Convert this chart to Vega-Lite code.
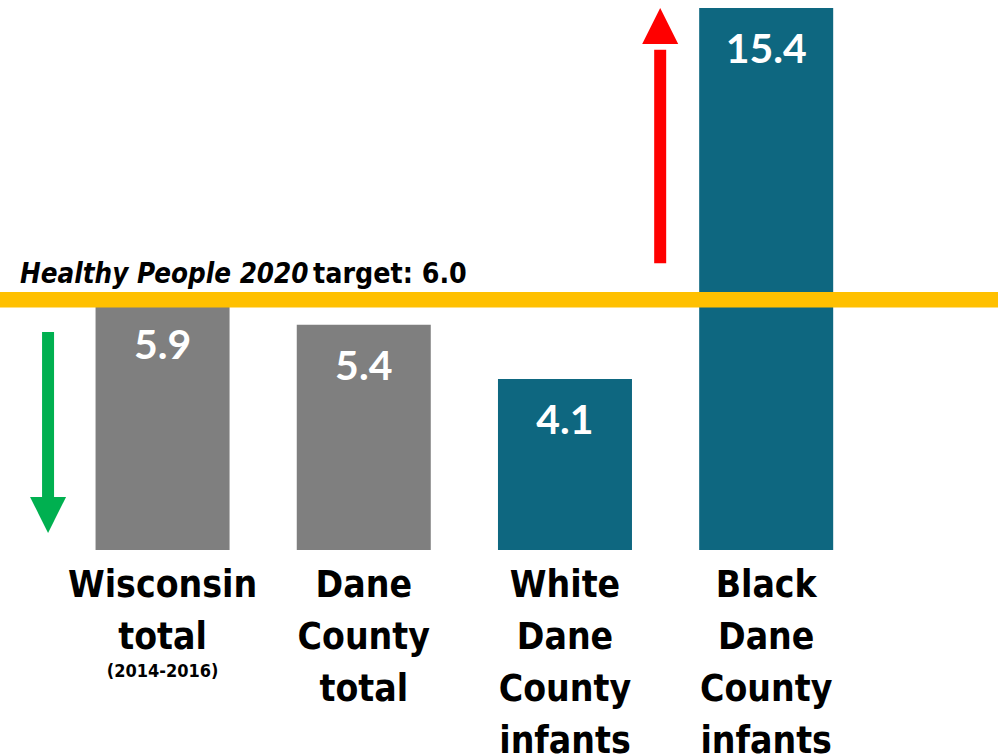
{
  "$schema": "https://vega.github.io/schema/vega-lite/v6.json",
  "width": 998,
  "height": 542,
  "autosize": {"type": "none"},
  "padding": {"top": 8, "bottom": 204, "left": 0, "right": 0},
  "background": "white",
  "config": {"view": {"stroke": null}},
  "datasets": {
    "bars": [
      {"group": "Wisconsin total", "rate": 5.9, "kind": "All infants", "label": "Wisconsin\ntotal", "note": "(2014-2016)"},
      {"group": "Dane County total", "rate": 5.4, "kind": "All infants", "label": "Dane\nCounty\ntotal", "note": ""},
      {"group": "White Dane County infants", "rate": 4.1, "kind": "By race", "label": "White\nDane\nCounty\ninfants", "note": ""},
      {"group": "Black Dane County infants", "rate": 15.4, "kind": "By race", "label": "Black\nDane\nCounty\ninfants", "note": ""}
    ],
    "target": [
      {"goal": "Healthy People 2020", "rest": "target: 6.0", "rate": 6.0}
    ],
    "arrows": [
      {"direction": "below target", "group": "Wisconsin total", "from": 5.23, "shaftEnd": 1.0, "tip": 0.41},
      {"direction": "above target", "group": "Black Dane County infants", "from": 6.88, "shaftEnd": 12.0, "tip": 13.0}
    ]
  },
  "encoding": {
    "x": {
      "field": "group",
      "type": "nominal",
      "axis": null,
      "sort": null,
      "scale": {
        "domain": ["Wisconsin total", "Dane County total", "White Dane County infants", "Black Dane County infants"],
        "paddingInner": 0.334,
        "paddingOuter": 0.647,
        "align": 0.367,
        "round": false
      }
    }
  },
  "layer": [
    {
      "data": {"name": "bars"},
      "mark": {"type": "bar"},
      "encoding": {
        "y": {"field": "rate", "type": "quantitative", "axis": null, "scale": {"domain": [0, 13], "clamp": true, "nice": false, "zero": true}},
        "color": {"field": "kind", "type": "nominal", "legend": null, "scale": {"domain": ["All infants", "By race"], "range": ["#7F7F7F", "#0E6780"]}}
      }
    },
    {
      "data": {"name": "target"},
      "mark": {"type": "rule", "color": "#FFC000", "strokeWidth": 15.5},
      "encoding": {
        "x": null,
        "y": {"field": "rate", "type": "quantitative"}
      }
    },
    {
      "data": {"name": "target"},
      "mark": {"type": "text", "align": "left", "baseline": "alphabetic", "dx": -142.5, "dy": -17, "font": "DejaVu Sans Condensed", "fontWeight": "bold", "fontStyle": "italic", "fontSize": 27.5, "color": "black"},
      "encoding": {
        "x": {"datum": "Wisconsin total"},
        "y": {"field": "rate", "type": "quantitative"},
        "text": {"field": "goal"}
      }
    },
    {
      "data": {"name": "target"},
      "mark": {"type": "text", "align": "left", "baseline": "alphabetic", "dx": 150.5, "dy": -17, "font": "DejaVu Sans Condensed", "fontWeight": "bold", "fontSize": 28.3, "color": "black"},
      "encoding": {
        "x": {"datum": "Wisconsin total"},
        "y": {"field": "rate", "type": "quantitative"},
        "text": {"field": "rest"}
      }
    },
    {
      "data": {"name": "arrows"},
      "transform": [{"filter": "datum.direction === 'below target'"}],
      "layer": [
        {
          "mark": {"type": "rule", "strokeWidth": 12, "xOffset": -114.5},
          "encoding": {
            "y": {"field": "from", "type": "quantitative"},
            "y2": {"field": "shaftEnd"},
            "stroke": {"field": "direction", "type": "nominal", "legend": null, "scale": {"domain": ["below target", "above target"], "range": ["#00B050", "#FF0000"]}}
          }
        },
        {
          "mark": {"type": "point", "filled": true, "opacity": 1, "size": 1296, "xOffset": -114.5},
          "encoding": {
            "y": {"field": "tip", "type": "quantitative"},
            "fill": {"field": "direction", "type": "nominal", "legend": null, "scale": {"domain": ["below target", "above target"], "range": ["#00B050", "#FF0000"]}},
            "shape": {"field": "direction", "type": "nominal", "legend": null, "scale": {"domain": ["below target", "above target"], "range": ["M-1,-2L1,-2L0,0Z", "M-1,2L1,2L0,0Z"]}}
          }
        }
      ]
    },
    {
      "data": {"name": "arrows"},
      "transform": [{"filter": "datum.direction === 'above target'"}],
      "layer": [
        {
          "mark": {"type": "rule", "strokeWidth": 12, "xOffset": -106},
          "encoding": {
            "y": {"field": "from", "type": "quantitative"},
            "y2": {"field": "shaftEnd"},
            "stroke": {"field": "direction", "type": "nominal", "legend": null}
          }
        },
        {
          "mark": {"type": "point", "filled": true, "opacity": 1, "size": 1296, "xOffset": -106},
          "encoding": {
            "y": {"field": "tip", "type": "quantitative"},
            "fill": {"field": "direction", "type": "nominal", "legend": null},
            "shape": {"field": "direction", "type": "nominal", "legend": null}
          }
        }
      ]
    },
    {
      "data": {"name": "bars"},
      "mark": {"type": "text", "align": "center", "baseline": "alphabetic", "dy": 55, "font": "Lato", "fontWeight": "bold", "fontSize": 41, "color": "white"},
      "encoding": {
        "y": {"field": "rate", "type": "quantitative"},
        "text": {"field": "rate", "type": "quantitative", "format": ".1f"}
      }
    },
    {
      "data": {"name": "bars"},
      "mark": {"type": "text", "align": "center", "baseline": "alphabetic", "dy": 47, "lineBreak": "\n", "lineHeight": 52, "font": "DejaVu Sans Condensed", "fontWeight": "bold", "fontSize": 37, "color": "black"},
      "encoding": {
        "y": {"datum": 0, "type": "quantitative"},
        "text": {"field": "label"}
      }
    },
    {
      "data": {"name": "bars"},
      "mark": {"type": "text", "align": "center", "baseline": "alphabetic", "dy": 127, "font": "DejaVu Sans Condensed", "fontWeight": "bold", "fontSize": 18, "color": "black"},
      "encoding": {
        "y": {"datum": 0, "type": "quantitative"},
        "text": {"field": "note"}
      }
    }
  ]
}
